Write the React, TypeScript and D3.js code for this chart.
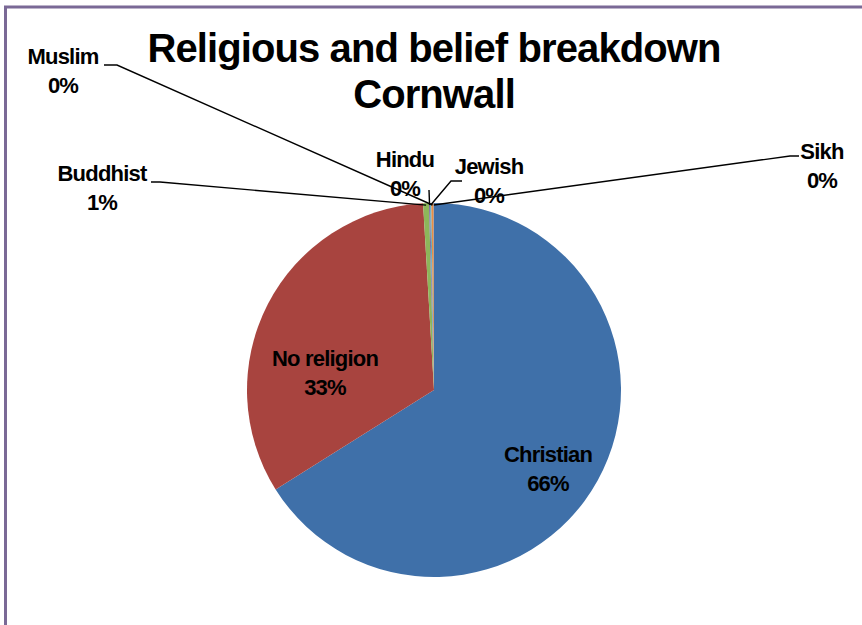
import React from "react";
import * as d3 from "d3";

const categories = ["Christian", "No religion", "Buddhist", "Hindu", "Jewish", "Muslim", "Sikh"];
const values = [65.9, 32.9, 0.5, 0.1, 0.1, 0.2, 0.03];
const colors = ["#3f70a9", "#a8443f", "#8db65a", "#7a66a0", "#4ba6c0", "#e88d44", "#5a7fb5"];
const titleLines = ["Religious and belief breakdown", "Cornwall"];

// layout only: label anchor (centre x, baseline y) and leader elbow/end
const labelLayout: Record<string, { x: number; y: number; elbow?: [number, number]; end?: [number, number] }> = {
  Christian: { x: 548, y: 462 },
  "No religion": { x: 325, y: 366 },
  Buddhist: { x: 102, y: 181, elbow: [160, 182], end: [151, 182] },
  Hindu: { x: 405, y: 167, elbow: [429, 190], end: [429, 190] },
  Jewish: { x: 489, y: 174, elbow: [451, 181], end: [462, 181] },
  Muslim: { x: 63, y: 64, elbow: [117, 65], end: [104, 65] },
  Sikh: { x: 822, y: 159, elbow: [790, 156], end: [799, 156] },
};

const W = 862;
const H = 625;
const cx = 434;
const cy = 390;
const R = 187;

export default function App() {
  const data = categories.map((c, i) => ({ name: c, value: values[i], color: colors[i] }));
  const total = d3.sum(values);
  const pie = d3.pie<any>().value((d) => d.value).sort(null);
  const arcs = pie(data);
  const arc = d3.arc<any>().innerRadius(0).outerRadius(R);
  const font = "'Liberation Sans', Arial, Helvetica, sans-serif";
  const labelStyle: React.CSSProperties = { fontFamily: font, fontWeight: 700, fontSize: 22, letterSpacing: -0.8 };

  return (
    <svg width={W} height={H} style={{ position: "absolute", left: 0, top: 0, background: "#fff" }}>
      <rect x={0} y={0} width={W} height={H} fill="#fff" />
      <line x1={4} y1={7} x2={W} y2={7} stroke="#7a6996" strokeWidth={3} />
      <line x1={5.5} y1={6} x2={5.5} y2={H} stroke="#7a6996" strokeWidth={3} />
      {titleLines.map((t, i) => (
        <text key={t} x={cx} y={62 + i * 46} textAnchor="middle" fill="#000"
          style={{ fontFamily: font, fontWeight: 700, fontSize: 40, letterSpacing: -0.9 }}>{t}</text>
      ))}
      <g transform={`translate(${cx},${cy})`}>
        {arcs.map((a) => (
          <path key={a.data.name} d={arc(a) as string} fill={a.data.color} />
        ))}
      </g>
      {arcs.map((a) => {
        const L = labelLayout[a.data.name];
        if (!L.elbow) return null;
        const mid = (a.startAngle + a.endAngle) / 2;
        const sx = cx + Math.sin(mid) * (R - 2);
        const sy = cy - Math.cos(mid) * (R - 2);
        const p = d3.path();
        p.moveTo(sx, sy);
        p.lineTo(L.elbow[0], L.elbow[1]);
        p.lineTo(L.end![0], L.end![1]);
        return <path key={"l" + a.data.name} d={p.toString()} fill="none" stroke="#000" strokeWidth={1.4} />;
      })}
      {arcs.map((a) => {
        const L = labelLayout[a.data.name];
        const pct = Math.round((a.data.value / total) * 100) + "%";
        return (
          <g key={"t" + a.data.name}>
            <text x={L.x} y={L.y} textAnchor="middle" fill="#000" style={labelStyle}>{a.data.name}</text>
            <text x={L.x} y={L.y + 29} textAnchor="middle" fill="#000" style={labelStyle}>{pct}</text>
          </g>
        );
      })}
    </svg>
  );
}
